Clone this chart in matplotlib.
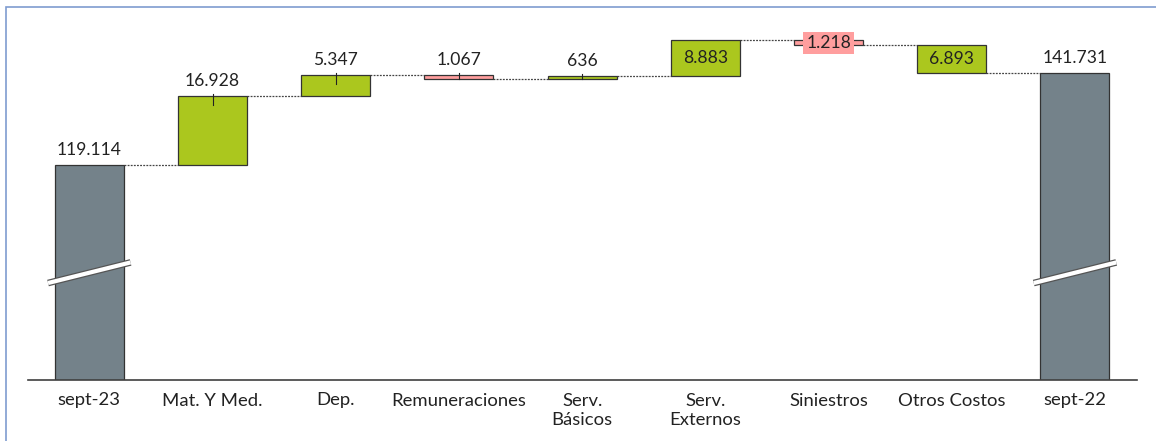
import matplotlib.pyplot as plt
from matplotlib.patches import Rectangle

# Waterfall data (values in units, labels use '.' as thousands separator)
categories = ["sept-23", "Mat. Y Med.", "Dep.", "Remuneraciones", "Serv.\nBásicos",
              "Serv.\nExternos", "Siniestros", "Otros Costos", "sept-22"]
values = [119114, 16928, 5347, -1067, 636, 8883, -1218, -6893, 141731]
kinds = ["total", "up", "up", "down", "up", "up", "down", "up", "total"]
label_pos = ["above", "above", "above", "above", "above", "inside", "box", "inside", "above"]

COLORS = {"total": "#74828A", "up": "#ABC71E", "down": "#FF9E9E"}
EDGE = "#333333"
TEXT = "#222222"
BAR_W = 0.56
Y_MIN, Y_MAX = 65800, 154900

plt.rcParams["font.family"] = ["Lato", "DejaVu Sans"]

fig = plt.figure(figsize=(11.56, 4.41), dpi=100)
ax = fig.add_axes([27.7 / 1156, 1 - 380 / 441, (1136.6 - 27.7) / 1156, 360 / 441])

# outer frame (only top and left edges are visible in the crop)
fig.patches.append(Rectangle((6 / 1156, -0.1), 1.2, (441 - 7) / 441 + 0.1,
                             transform=fig.transFigure, fill=False,
                             edgecolor="#7F9CD0", linewidth=1.2))

# compute bar spans
bottoms, tops, levels = [], [], []
running = 0
for v, k in zip(values, kinds):
    if k == "total":
        lo, hi = 0, v
        running = v
    else:
        start = running
        running = running + v
        lo, hi = min(start, running), max(start, running)
    bottoms.append(lo)
    tops.append(hi)
    levels.append(running)

x = list(range(len(categories)))
ax.bar(x, [t - b for t, b in zip(tops, bottoms)], bottom=bottoms, width=BAR_W,
       color=[COLORS[k] for k in kinds], edgecolor=EDGE, linewidth=0.9, zorder=2)

# dotted connectors
for i in range(len(x) - 1):
    ax.plot([i + BAR_W / 2, i + 1 - BAR_W / 2], [levels[i], levels[i]],
            color="#444444", linewidth=0.9, linestyle=(0, (1.5, 1)), zorder=1)


def fmt(v):
    return f"{abs(v):,}".replace(",", ".")


NUM_FS = 12.6

# labels
for i, (v, pos) in enumerate(zip(values, label_pos)):
    if pos == "above":
        ax.annotate(fmt(v), (i, tops[i]), xytext=(0, 5), textcoords="offset points",
                    ha="center", va="bottom", fontsize=NUM_FS, color=TEXT, zorder=4)
        if kinds[i] != "total":
            h = tops[i] - bottoms[i]
            ax.plot([i, i], [tops[i] + 500, tops[i] - min(2300, h)],
                    color="#222222", linewidth=0.8, zorder=3)
    elif pos == "inside":
        ax.text(i, (tops[i] + bottoms[i]) / 2, fmt(v), ha="center", va="center",
                fontsize=NUM_FS, color=TEXT, zorder=4)
    else:
        ax.text(i, (tops[i] + bottoms[i]) / 2, fmt(v), ha="center", va="center",
                fontsize=NUM_FS, color=TEXT, zorder=4,
                bbox=dict(boxstyle="square,pad=0.18", facecolor=COLORS["down"],
                          edgecolor="none"))

# axis break marks on the total bars
for i, k in enumerate(kinds):
    if k == "total":
        xs = [i - 0.335, i + 0.335]
        ys = [89800, 94900]
        ax.plot(xs, ys, color="#555555", linewidth=4.8, solid_capstyle="butt", zorder=5)
        ax.plot(xs, ys, color="white", linewidth=3.0, solid_capstyle="butt", zorder=6)

ax.set_xlim(-0.5, len(x) - 0.5)
ax.set_ylim(Y_MIN, Y_MAX)
ax.set_xticks(x)
ax.set_xticklabels(categories, fontsize=13.3, color=TEXT, linespacing=1.3)
ax.tick_params(axis="x", length=0, pad=9)
ax.set_yticks([])
for side in ("top", "right", "left"):
    ax.spines[side].set_visible(False)
ax.spines["bottom"].set_color("#404040")
ax.spines["bottom"].set_linewidth(1.2)

fig.savefig("out.png", dpi=100)
